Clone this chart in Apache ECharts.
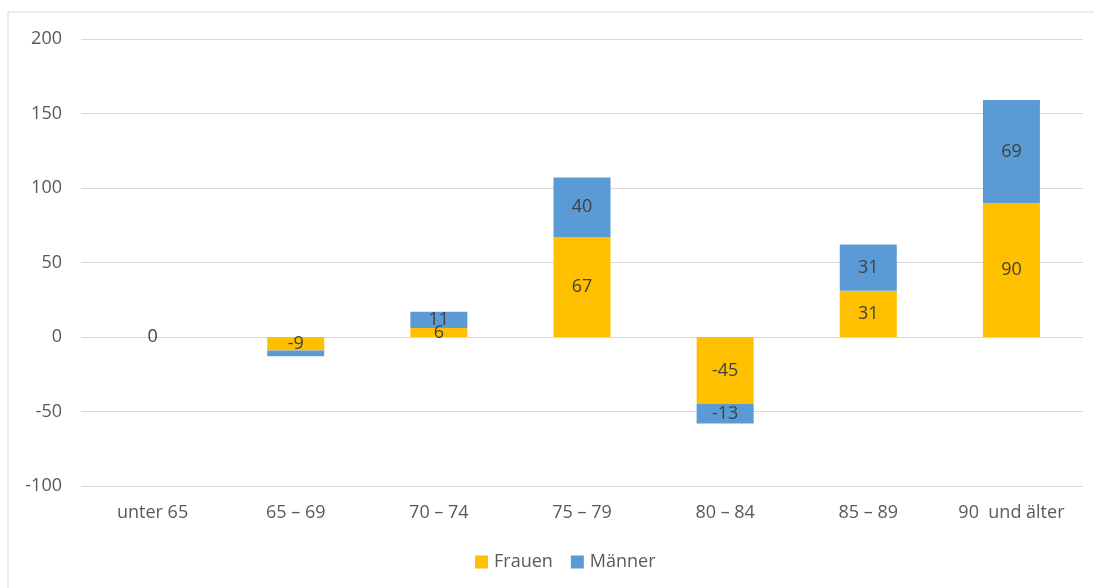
<!DOCTYPE html>
<html>
<head>
<meta charset="utf-8">
<script src="https://cdn.jsdelivr.net/npm/echarts@6/dist/echarts.min.js"></script>
<style>
  html, body { margin: 0; padding: 0; background: #fff; }
  #chart { width: 1094px; height: 588px; }
</style>
</head>
<body>
<div id="chart"></div>
<script>
// Altersgruppen und Veränderungen nach Geschlecht
const categories = ['unter 65', '65 – 69', '70 – 74', '75 – 79', '80 – 84', '85 – 89', '90  und älter'];
const frauen = [0, -9, 6, 67, -45, 31, 90];
const maenner = [0, -4, 11, 40, -13, 31, 69];
// Werte, deren Beschriftung nicht angezeigt wird
const maennerOhneLabel = [0, 1];

const fontFamily = '"Open Sans", "Liberation Sans", sans-serif';

const chart = echarts.init(document.getElementById('chart'), null, { renderer: 'canvas' });

const labelStyle = {
  show: true,
  position: 'inside',
  color: '#404040',
  fontSize: 18,
  fontFamily: fontFamily
};

chart.setOption({
  animation: false,
  graphic: [{
    type: 'rect',
    shape: { x: 8, y: 12, width: 1200, height: 700 },
    style: { fill: 'none', stroke: '#d9d9d9', lineWidth: 1 },
    silent: true,
    z: -10
  }],
  grid: { left: 81, right: 11, top: 39, bottom: 102, containLabel: false },
  legend: {
    bottom: 12,
    left: 470,
    itemWidth: 13,
    itemHeight: 13,
    itemGap: 18,
    icon: 'rect',
    textStyle: { color: '#595959', fontSize: 18, fontFamily: fontFamily, padding: [0, 0, 0, 1] },
    data: ['Frauen', 'Männer']
  },
  xAxis: {
    type: 'category',
    data: categories,
    axisLine: { show: false, onZero: false },
    axisTick: { show: false },
    axisLabel: { color: '#595959', fontSize: 18, fontFamily: fontFamily, margin: 18 }
  },
  yAxis: {
    type: 'value',
    min: -100,
    max: 200,
    interval: 50,
    axisLine: { show: false },
    axisTick: { show: false },
    axisLabel: { color: '#595959', fontSize: 18, fontFamily: fontFamily, margin: 19 },
    splitLine: { lineStyle: { color: '#d9d9d9', width: 1 } }
  },
  series: [
    {
      name: 'Frauen',
      type: 'bar',
      stack: 'gesamt',
      barWidth: 57,
      itemStyle: { color: '#FFC000' },
      label: labelStyle,
      data: frauen
    },
    {
      name: 'Männer',
      type: 'bar',
      stack: 'gesamt',
      barWidth: 57,
      itemStyle: { color: '#5B9BD5' },
      label: labelStyle,
      data: maenner.map((v, i) => maennerOhneLabel.includes(i)
        ? { value: v, label: { show: false } }
        : v)
    }
  ]
});
</script>
</body>
</html>
